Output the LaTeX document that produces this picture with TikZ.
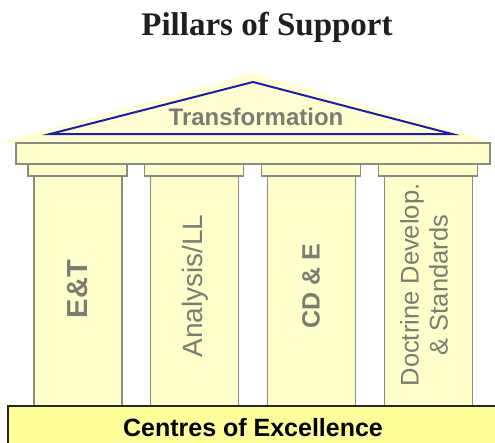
\documentclass[tikz,border=0pt]{standalone}
\usepackage{fontspec}
\setmainfont{Liberation Sans}
\newfontfamily\titlefont{Liberation Serif}
\definecolor{pillarfill}{HTML}{FFFFCC}
\definecolor{basefill}{HTML}{FFFF99}
\definecolor{roofglow}{HTML}{FFFFD2}
\definecolor{roofblue}{HTML}{1C1CB4}
\definecolor{edgegray}{HTML}{8A8A80}
\definecolor{textgray}{HTML}{7C7C74}
\begin{document}
\begin{tikzpicture}[x=1pt,y=-1pt,
    pillarline/.style={fill=pillarfill, draw=edgegray, line width=1.2pt},
    pillartext/.style={rotate=90, text=textgray, inner sep=0pt, align=center}]
  \useasboundingbox (0,0) rectangle (495,442);
  \node[anchor=base, font=\titlefont\bfseries\fontsize{33}{36}\selectfont, text=black!88] (title) at (267,35) {Pillars of Support};
  \fill[roofglow] (0,143) -- (253,73) -- (495,143) -- cycle;
  \draw[roofblue, line width=2pt] (50,134) -- (253,82) -- (452,134) -- cycle;
  \node[anchor=base, text=textgray, font=\bfseries\fontsize{24}{28}\selectfont] (roof) at (256,125) {Transformation};
  \filldraw[pillarline] (16,143) rectangle (490,164);
  \foreach \i in {0,...,3} {
    \filldraw[pillarline] ({28+116.7*\i},164) rectangle ++(99,12);
    \filldraw[pillarline] ({34+116.7*\i},176) rectangle ++(88,230);
  }
  \node[pillartext, font=\bfseries\fontsize{29}{32}\selectfont] (et) at (78,289) {E\&T};
  \node[pillartext, font=\fontsize{28}{32}\selectfont] (analysis) at (195,286) {Analysis/LL};
  \node[pillartext, font=\bfseries\fontsize{25}{29}\selectfont] (cde) at (311,286) {CD \& E};
  \node[pillartext, font=\fontsize{25.5}{29}\selectfont] (doctrine) at (424,285) {Doctrine Develop.\\\& Standards};
  \filldraw[fill=basefill, draw=black!85, line width=1.2pt] (8,406) rectangle (502,448);
  \node[anchor=base, font=\bfseries\fontsize{25}{29}\selectfont] (coe) at (253,436) {Centres of Excellence};
\end{tikzpicture}
\end{document}
